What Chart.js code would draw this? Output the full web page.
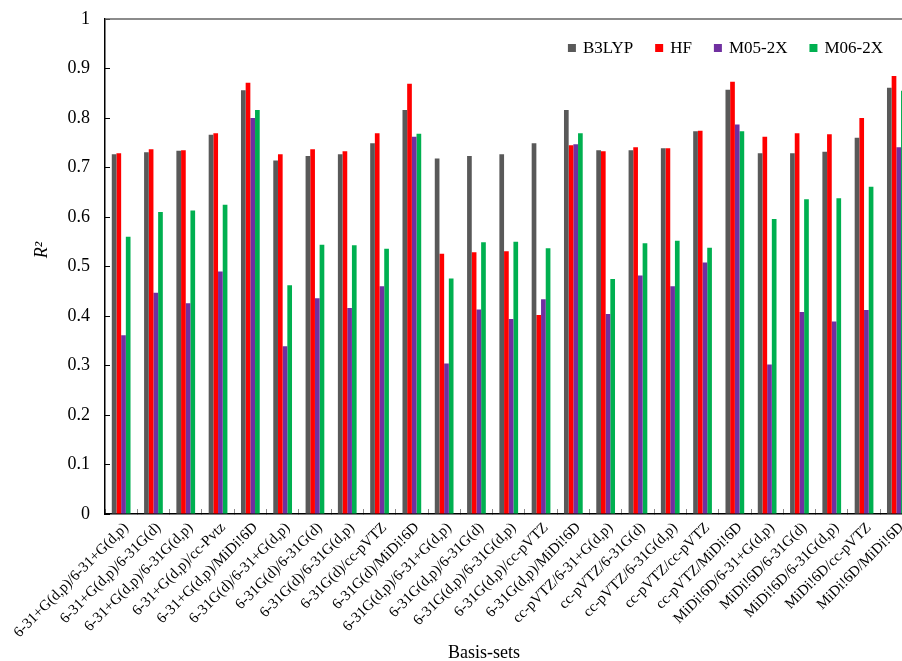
<!DOCTYPE html>
<html>
<head>
<meta charset="utf-8">
<script src="https://cdn.jsdelivr.net/npm/chart.js@4.4.0/dist/chart.umd.min.js"></script>
<style>
  html, body { margin: 0; padding: 0; background: #fff; overflow: hidden; }
  #wrap { position: relative; width: 920px; height: 661px; }
</style>
</head>
<body>
<div id="wrap"><canvas id="r2-chart"></canvas></div>
<script>
// data
var basisSets = [
  '6-31+G(d,p)/6-31+G(d,p)', '6-31+G(d,p)/6-31G(d)', '6-31+G(d,p)/6-31G(d,p)', '6-31+G(d,p)/cc-Pvtz', '6-31+G(d,p)/MiDi!6D',
  '6-31G(d)/6-31+G(d,p)', '6-31G(d)/6-31G(d)', '6-31G(d)/6-31G(d,p)', '6-31G(d)/cc-pVTZ', '6-31G(d)/MiDi!6D',
  '6-31G(d,p)/6-31+G(d,p)', '6-31G(d,p)/6-31G(d)', '6-31G(d,p)/6-31G(d,p)', '6-31G(d,p)/cc-pVTZ', '6-31G(d,p)/MiDi!6D',
  'cc-pVTZ/6-31+G(d,p)', 'cc-pVTZ/6-31G(d)', 'cc-pVTZ/6-31G(d,p)', 'cc-pVTZ/cc-pVTZ', 'cc-pVTZ/MiDi!6D',
  'MiDi!6D/6-31+G(d,p)', 'MiDi!6D/6-31G(d)', 'MiDi!6D/6-31G(d,p)', 'MiDi!6D/cc-pVTZ', 'MiDi!6D/MiDi!6D'
];
var b3lyp = [0.727, 0.731, 0.734, 0.766, 0.856, 0.714, 0.723, 0.727, 0.749, 0.816,
             0.718, 0.723, 0.727, 0.749, 0.816, 0.735, 0.735, 0.739, 0.773, 0.857,
             0.729, 0.729, 0.732, 0.760, 0.861];
var hf    = [0.729, 0.737, 0.735, 0.769, 0.871, 0.727, 0.737, 0.733, 0.769, 0.869,
             0.526, 0.529, 0.531, 0.402, 0.745, 0.733, 0.741, 0.739, 0.774, 0.873,
             0.762, 0.769, 0.767, 0.800, 0.885];
var m052x = [0.361, 0.447, 0.426, 0.490, 0.800, 0.339, 0.436, 0.416, 0.460, 0.762,
             0.304, 0.413, 0.394, 0.434, 0.747, 0.404, 0.482, 0.460, 0.508, 0.787,
             0.302, 0.408, 0.389, 0.412, 0.741];
var m062x = [0.560, 0.610, 0.613, 0.625, 0.816, 0.462, 0.544, 0.543, 0.536, 0.768,
             0.476, 0.549, 0.550, 0.537, 0.769, 0.475, 0.547, 0.552, 0.538, 0.773,
             0.596, 0.636, 0.638, 0.661, 0.855];
var yMin = 0, yMax = 1, yStep = 0.1;
var xTitle = 'Basis-sets';
var yTitle = 'R²';

Chart.defaults.font.family = '"Liberation Serif", "Times New Roman", serif';
Chart.defaults.color = '#000';

// top/right frame, axis titles and the in-plot legend
var frame = {
  id: 'frame',
  afterDraw: function(chart) {
    var ctx = chart.ctx, a = chart.chartArea;
    ctx.save();
    ctx.strokeStyle = '#666';
    ctx.lineWidth = 1.5;
    ctx.beginPath();
    ctx.moveTo(a.left, a.top);
    ctx.lineTo(a.right, a.top);
    ctx.lineTo(a.right, a.bottom);
    ctx.stroke();

    ctx.textAlign = 'left';
    ctx.textBaseline = 'middle';
    ctx.font = '17px "Liberation Serif"';
    var x = 883, y = 48;
    var sets = chart.data.datasets;
    for (var i = sets.length - 1; i >= 0; i--) {
      var w = ctx.measureText(sets[i].label).width;
      x -= w;
      ctx.fillStyle = '#000';
      ctx.fillText(sets[i].label, x, y + 1);
      x -= 15;
      ctx.fillStyle = sets[i].backgroundColor;
      ctx.fillRect(x, y - 4, 8, 8);
      x -= 22;
    }

    ctx.fillStyle = '#000';
    ctx.textAlign = 'center';
    ctx.font = '18px "Liberation Serif"';
    ctx.fillText(xTitle, a.left + 379, 653);
    ctx.translate(42, 250);
    ctx.rotate(-Math.PI / 2);
    ctx.font = 'italic 18px "Liberation Serif"';
    ctx.fillText(yTitle, 0, 0);
    ctx.restore();
  }
};

(function() {
  var ctx = document.getElementById('r2-chart');
  new Chart(ctx, {
    type: 'bar',
    data: {
      labels: basisSets,
      datasets: [
        { label: 'B3LYP',  backgroundColor: '#595959', data: b3lyp },
        { label: 'HF',     backgroundColor: '#ff0000', data: hf },
        { label: 'M05-2X', backgroundColor: '#7030a0', data: m052x },
        { label: 'M06-2X', backgroundColor: '#00b050', data: m062x }
      ]
    },
    options: {
      responsive: true,
      maintainAspectRatio: false,
      animation: false,
      categoryPercentage: 0.58,
      barPercentage: 1,
      layout: { padding: { left: 47.5, right: 7.5, top: 19, bottom: 9.5 } },
      plugins: {
        tooltip: { enabled: false },
        legend: { display: false }
      },
      scales: {
        x: {
          grid: { drawOnChartArea: false, tickLength: -5, color: '#888' },
          border: { color: '#000', width: 1.5 },
          ticks: { maxRotation: 45, minRotation: 45, autoSkip: false, padding: 10, labelOffset: 5, font: { size: 15 } },
          afterFit: function(scale) { scale.paddingLeft = 0; }
        },
        y: {
          min: yMin, max: yMax,
          grid: { drawOnChartArea: false, tickLength: -5, color: '#000' },
          border: { color: '#000', width: 1.5 },
          ticks: {
            stepSize: yStep, padding: 20, font: { size: 18 },
            callback: function(v) { return String(Number(v.toFixed(1))); }
          },
          afterFit: function(scale) { scale.paddingTop = 0; scale.paddingBottom = 0; }
        }
      }
    },
    plugins: [frame]
  });
})();
</script>
</body>
</html>
